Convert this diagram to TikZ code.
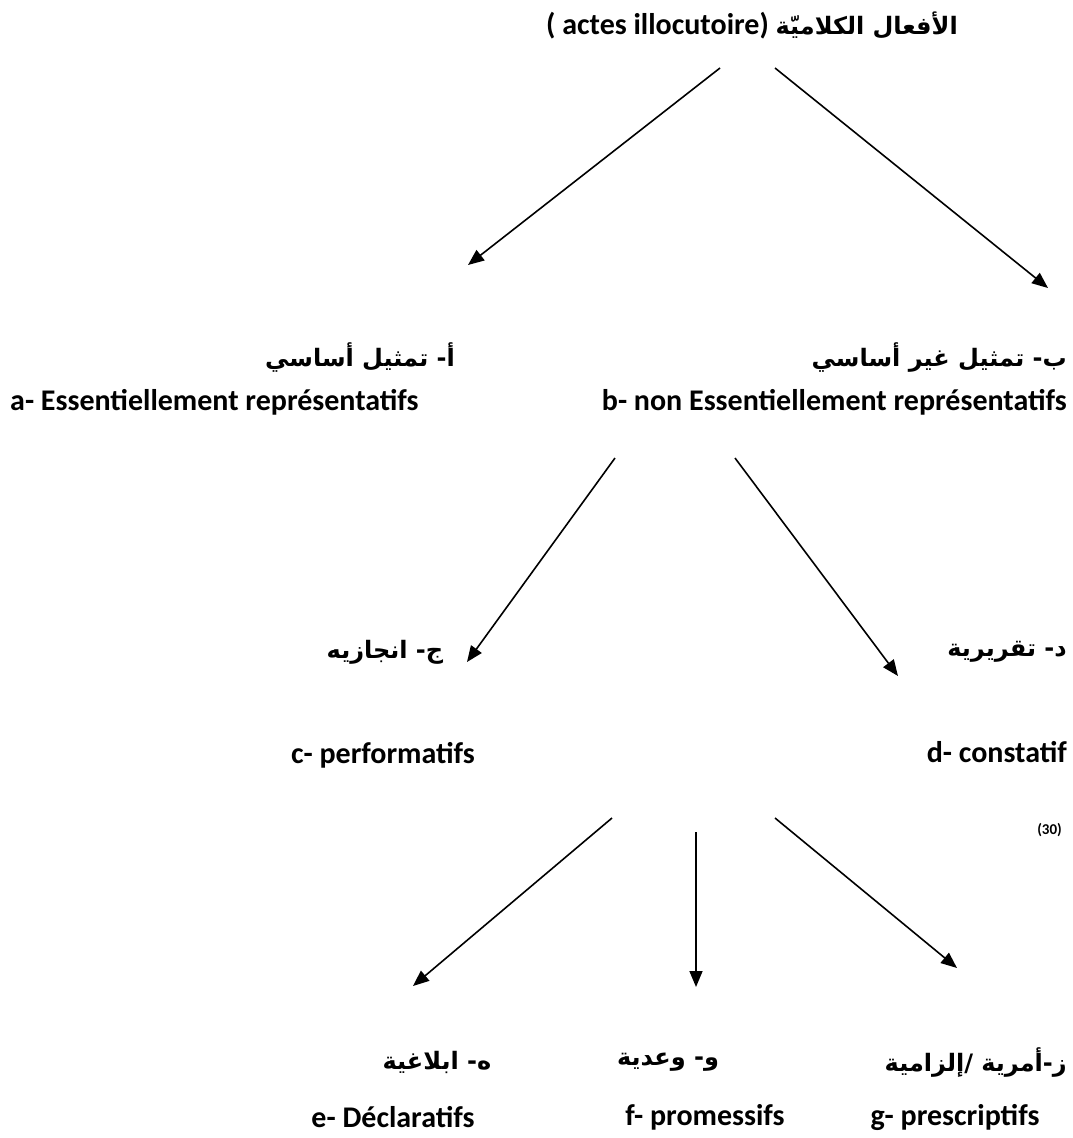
\documentclass[tikz,border=0pt]{standalone}
\usepackage{fontspec}
\setmainfont{Carlito}
\newfontfamily\arfont[Script=Arabic]{DejaVu Sans}
\TeXXeTstate=1
\usetikzlibrary{arrows.meta}
\begin{document}
\begin{tikzpicture}[x=1pt,y=-1pt,
  lat/.style={font=\fontsize{30}{36}\selectfont\bfseries, inner sep=0pt},
  ar/.style={font=\arfont\fontsize{24}{30}\selectfont\bfseries, inner sep=0pt},
  arr/.style={-{Triangle[length=16pt,width=13pt]}, line width=1.6pt}]
\useasboundingbox[fill=white] (0,0) rectangle (1072,1138);

% title
\node[lat] (title) at (752,25) {( actes illocutoire) {\arfont\fontsize{24}{30}\selectfont\bfseries\beginR الأفعال الكلاميّة\endR}};
\coordinate (t1) at (720,68);
\coordinate (t2) at (775,68);

% row 2
\node[ar] (a_ar) at (360,358) {\beginR أ- تمثيل أساسي\endR};
\node[ar,anchor=east] (b_ar) at (1067,358) {\beginR ب- تمثيل غير أساسي\endR};
\node[lat,anchor=west] (a_fr) at (10,402) {a- Essentiellement représentatifs};
\node[lat,anchor=east] (b_fr) at (1067,402) {b- non Essentiellement représentatifs};
\coordinate (a_tip) at (468,265);
\coordinate (b_tip) at (1048,288);
\coordinate (m1) at (615,458);
\coordinate (m2) at (735,458);

% row 3
\node[ar] (c_ar) at (385,652) {\beginR ج- انجازيه\endR};
\node[ar,anchor=east] (d_ar) at (1067,652) {\beginR د- تقريرية\endR};
\node[lat] (c_fr) at (383,755) {c- performatifs};
\node[lat,anchor=east] (d_fr) at (1067,752) {d- constatif};
\node[font=\fontsize{15}{18}\selectfont\bfseries, inner sep=0pt, anchor=east] (ref) at (1062,830) {(30)};
\coordinate (c_tip) at (467,662);
\coordinate (d_tip) at (898,676);
\coordinate (l1) at (612,818);
\coordinate (l2) at (696,832);
\coordinate (l3) at (775,818);

% row 4
\node[ar] (e_ar) at (437,1062) {\beginR ه- ابلاغية\endR};
\node[ar] (f_ar) at (668,1062) {\beginR و- وعدية\endR};
\node[ar,anchor=east] (g_ar) at (1067,1062) {\beginR ز-أمرية /إلزامية\endR};
\node[lat] (e_fr) at (393,1117) {e- Déclaratifs};
\node[lat] (f_fr) at (705,1117) {f- promessifs};
\node[lat] (g_fr) at (955,1117) {g- prescriptifs};
\coordinate (e_tip) at (413,986);
\coordinate (f_tip) at (696,987);
\coordinate (g_tip) at (957,968);

% arrows
\draw[arr] (t1) -- (a_tip);
\draw[arr] (t2) -- (b_tip);
\draw[arr] (m1) -- (c_tip);
\draw[arr] (m2) -- (d_tip);
\draw[arr] (l1) -- (e_tip);
\draw[arr] (l2) -- (f_tip);
\draw[arr] (l3) -- (g_tip);
\end{tikzpicture}
\end{document}
